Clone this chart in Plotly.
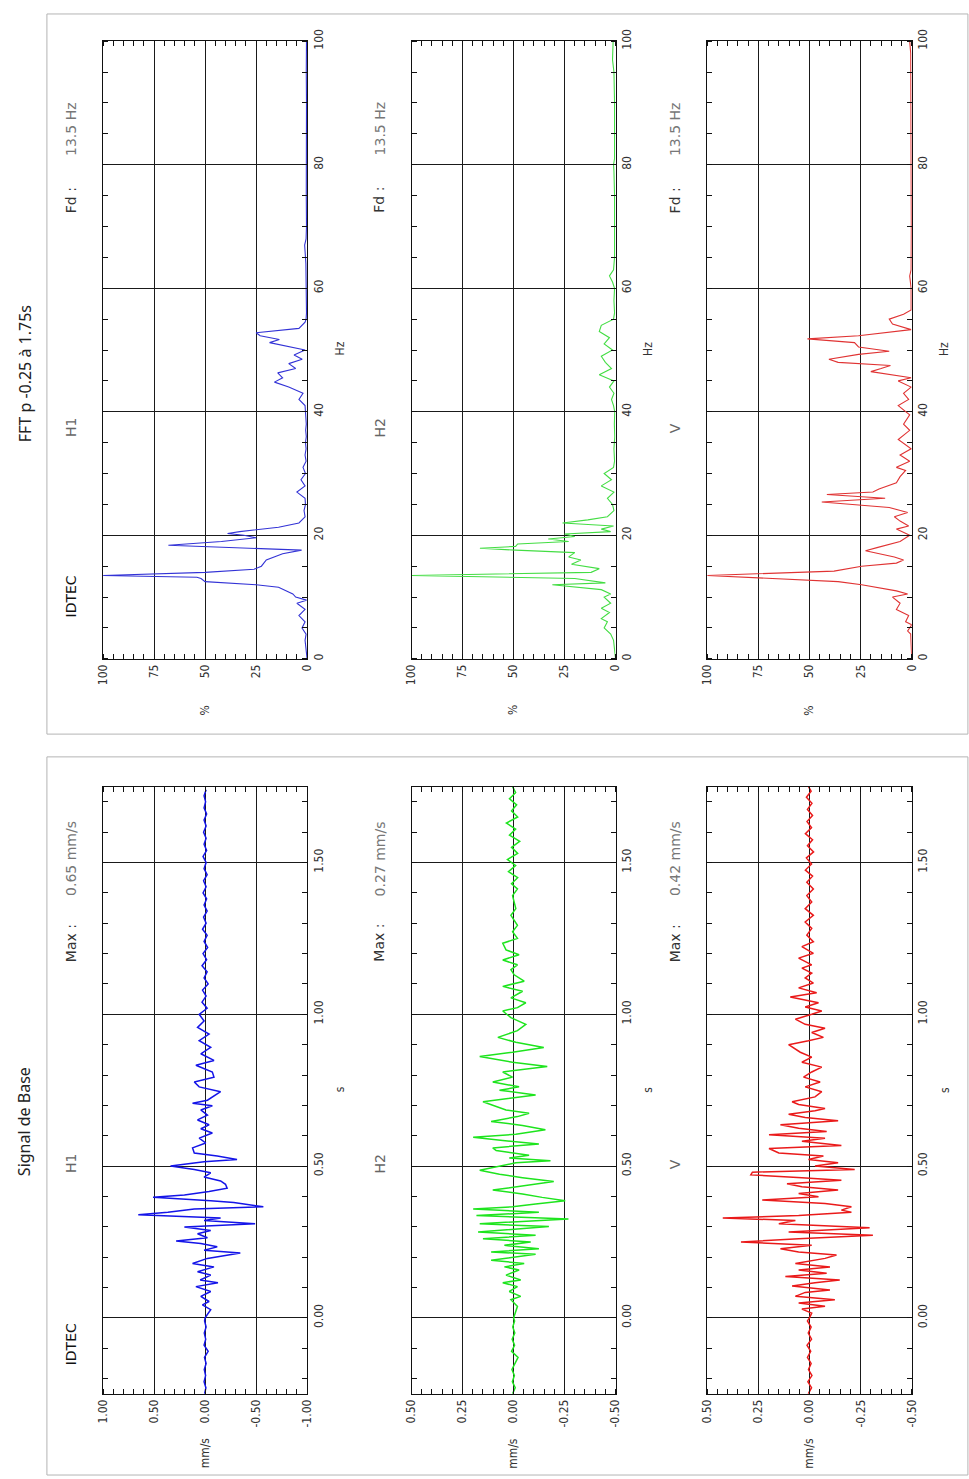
import plotly.graph_objects as go

# ---------------- DATA ----------------
# Signal de Base (time in s, velocity in mm/s)
h1_t = [-0.25,-0.23,-0.21,-0.19,-0.17,-0.15,-0.13,-0.11,-0.09,-0.07,-0.05,-0.03,-0.01,
        0.000,0.027,0.043,0.054,0.071,0.087,0.103,0.116,0.125,0.141,0.152,0.168,0.179,0.196,0.214,0.223,
        0.234,0.245,0.253,0.264,0.277,0.288,0.299,0.310,0.321,0.329,0.340,0.348,0.359,0.366,0.380,0.386,
        0.397,0.405,0.416,0.427,0.440,0.451,0.464,0.478,0.489,0.500,0.514,0.522,0.533,0.543,0.560,0.576,
        0.592,0.609,0.623,0.636,0.652,0.668,0.685,0.699,0.707,0.717,0.745,0.761,0.777,0.793,0.810,0.832,
        0.848,0.870,0.891,0.913,0.935,0.957,0.978,1.000,
        1.02,1.04,1.06,1.08,1.10,1.12,1.14,1.16,1.18,1.20,1.22,1.24,1.26,1.28,1.30,1.32,1.34,1.36,1.38,
        1.40,1.42,1.44,1.46,1.48,1.50,1.52,1.54,1.56,1.58,1.60,1.62,1.64,1.66,1.68,1.70,1.72,1.74]
h1_v = [0.005,-0.008,0.010,-0.005,0.008,-0.010,0.006,-0.030,0.010,-0.006,0.008,-0.010,0.005,
        0.000,-0.055,0.026,-0.039,0.042,-0.055,0.090,-0.126,0.048,-0.055,0.074,-0.087,0.123,-0.023,-0.345,0.010,
        -0.119,0.042,0.284,-0.023,0.074,-0.055,0.203,-0.490,0.010,-0.152,0.655,0.365,0.106,-0.571,-0.281,-0.055,
        0.510,0.203,-0.039,-0.216,-0.200,-0.152,0.010,-0.055,0.106,0.339,0.010,-0.313,-0.119,0.106,0.123,-0.006,
        0.058,-0.071,0.042,-0.039,0.074,-0.023,0.042,-0.071,0.123,-0.023,-0.152,0.058,0.106,-0.087,-0.071,0.090,
        -0.087,0.042,-0.055,0.058,-0.039,0.074,0.010,0.058,
        -0.020,0.030,-0.010,0.025,-0.030,0.010,-0.020,0.030,-0.015,0.020,-0.025,0.010,-0.020,0.025,-0.010,0.015,
        -0.020,0.010,-0.015,0.020,-0.010,0.015,-0.020,0.010,-0.010,0.020,-0.015,0.010,-0.010,0.015,-0.010,0.010,
        -0.015,0.010,-0.005,0.010,-0.010]

h2_t = [-0.25,-0.23,-0.21,-0.19,-0.17,-0.15,-0.13,-0.11,-0.09,-0.07,-0.05,-0.03,-0.01,
        0.000,0.038,0.060,0.071,0.087,0.103,0.116,0.125,0.141,0.158,0.168,0.179,0.190,0.201,0.210,0.217,
        0.228,0.239,0.250,0.261,0.272,0.283,0.293,0.301,0.310,0.318,0.326,0.337,0.348,0.359,0.366,0.375,
        0.386,0.397,0.408,0.421,0.429,0.449,0.462,0.473,0.486,0.497,0.511,0.518,0.527,0.536,0.551,0.560,
        0.573,0.584,0.595,0.605,0.620,0.634,0.647,0.663,0.674,0.685,0.701,0.712,0.734,0.750,0.761,0.777,
        0.793,0.810,0.828,0.842,0.861,0.875,0.891,0.908,0.924,0.946,0.967,0.989,1.011,1.022,1.038,1.054,
        1.076,1.092,1.109,1.130,1.147,1.163,1.179,1.196,1.212,1.234,1.250,1.272,1.293,1.326,1.348,1.391,1.413,
        1.43,1.45,1.47,1.49,1.51,1.53,1.55,1.57,1.59,1.61,1.63,1.65,1.67,1.69,1.71,1.73,1.75]
h2_v = [0.005,-0.008,0.006,-0.004,0.008,-0.006,-0.022,0.010,-0.005,0.007,-0.006,0.004,-0.005,
        0.000,-0.019,0.013,-0.035,0.021,-0.019,0.053,-0.035,0.037,-0.027,0.045,-0.052,0.110,-0.019,-0.108,0.110,
        -0.124,0.045,-0.084,0.150,-0.108,0.174,-0.019,-0.173,0.166,-0.076,-0.269,0.182,-0.124,0.198,0.005,-0.108,
        -0.253,-0.140,-0.044,0.102,0.021,-0.197,-0.044,0.069,0.166,0.085,-0.011,-0.181,0.021,-0.076,0.085,0.102,
        -0.124,0.053,0.198,-0.011,-0.156,-0.044,0.110,-0.019,-0.076,0.037,0.102,0.150,-0.108,0.069,-0.027,0.102,
        0.005,0.053,-0.165,0.005,0.166,0.005,-0.148,-0.011,0.077,-0.019,-0.060,0.013,0.053,-0.019,-0.060,0.013,
        -0.044,0.053,-0.052,-0.003,0.013,-0.019,0.053,-0.027,0.037,0.053,-0.019,0.005,-0.019,0.013,-0.011,0.005,-0.019,
        0.010,-0.020,0.025,-0.010,0.030,-0.020,0.010,-0.030,0.020,-0.010,0.035,-0.020,0.010,-0.015,0.020,-0.010,0.005]

v_t = [-0.25,-0.23,-0.21,-0.19,-0.17,-0.15,-0.13,-0.11,-0.09,-0.07,-0.05,-0.03,-0.01,
       0.000,0.016,0.029,0.038,0.049,0.060,0.071,0.084,0.092,0.105,0.116,0.125,0.136,0.147,0.158,0.168,
       0.179,0.196,0.207,0.217,0.228,0.239,0.250,0.261,0.272,0.283,0.297,0.310,0.321,0.329,0.337,0.348,
       0.355,0.366,0.377,0.388,0.399,0.410,0.421,0.432,0.442,0.453,0.462,0.471,0.480,0.489,0.500,0.511,
       0.522,0.533,0.543,0.558,0.568,0.582,0.592,0.603,0.614,0.625,0.636,0.649,0.660,0.671,0.682,0.690,
       0.703,0.712,0.728,0.745,0.761,0.777,0.793,0.810,0.826,0.842,0.859,0.875,0.900,0.913,0.924,0.940,
       0.954,0.967,0.984,1.000,1.011,1.024,1.038,1.057,1.071,1.087,1.103,1.120,1.136,1.152,1.163,1.185,
       1.201,1.223,1.239,1.261,1.283,1.304,1.326,1.348,1.370,1.391,1.413,1.435,
       1.455,1.475,1.495,1.515,1.535,1.555,1.575,1.595,1.615,1.635,1.655,1.675,1.695,1.715,1.735,1.75]
v_v = [0.006,-0.010,0.008,-0.012,0.005,-0.008,0.010,-0.006,0.012,-0.010,0.006,-0.008,0.010,
       0.000,-0.011,0.037,-0.076,0.053,-0.124,0.069,0.021,-0.100,0.085,-0.027,-0.148,0.118,-0.084,0.053,-0.100,
       0.069,-0.076,-0.132,0.053,0.142,-0.011,0.335,0.053,-0.310,0.102,-0.294,0.150,0.069,0.424,0.053,-0.205,
       -0.156,-0.205,-0.076,0.231,-0.044,0.053,-0.140,0.037,0.110,-0.156,0.037,0.287,0.279,-0.221,-0.027,-0.140,
       0.005,-0.068,0.150,0.198,-0.156,0.037,-0.076,0.198,-0.084,0.053,0.142,-0.140,0.021,0.102,-0.027,-0.076,
       0.053,0.085,-0.027,-0.060,0.021,-0.052,0.029,-0.011,-0.060,0.037,-0.011,0.045,0.102,0.005,-0.068,-0.011,
       -0.076,0.021,0.069,-0.011,-0.060,0.021,-0.044,0.094,-0.035,0.053,-0.019,0.021,-0.011,0.037,-0.011,0.053,
       -0.019,0.037,-0.019,0.013,-0.011,0.021,-0.019,0.021,-0.011,0.013,-0.019,0.013,
       -0.015,0.020,-0.010,0.015,-0.020,0.010,-0.015,0.020,-0.010,0.012,-0.015,0.010,-0.012,0.015,-0.008,0.005]

# FFT p -0.25 a 1.75s (frequency in Hz, amplitude in %)
fft_h1_f = [0,1,2,3,4,5,6,7,8,9,9.5,10,10.5,11,11.6,12,12.5,13,13.2,13.5,14,14.5,15,16,17,17.6,18.4,19,19.6,20,
            20.3,20.6,21.3,22,23,24,25,26,27,28,29,30,31,32,33,34,35,36,37,38,39,40,41,42,43,44,44.8,45.5,46.3,
            47,47.8,48.5,49.2,50,50.7,51.2,51.7,52.3,52.8,53.5,54.5,55,56,58,60,62,64,66,67,68,70,75,80,85,90,95,100]
fft_h1_p = [0,0.3,0.5,1,0.5,2.5,1,4,1,5,0.3,5.6,7,10,14,25,50,52,54,100,50,26,22.4,20,12,2.7,68,42,25,31,
            39,33,14,4,1,1.5,0.8,1,5,1,3,0.8,2,0.5,1,0.5,0.8,0.4,0.7,0.4,0.6,0.5,1,4,2,9,16,12,14.4,
            5.6,9,2.4,6.4,1,12,18.4,13.6,23,25,4,1,0.5,0.3,0.4,0.5,0.3,0.6,1,1.2,0.5,0.3,0.4,0.3,0.4,0.3,0.4,0.3]

fft_h2_f = [0,1,2,3,4,5,6,6.5,7.5,8.2,9,10,10.5,11.2,12,12.3,13,13.5,14,14.6,15.3,16,16.5,17.2,17.6,17.9,18.2,
            18.6,19,19.4,19.8,20.2,20.6,21,21.5,22,22.5,23,24,25,26,27,28,29,30,31,32,34,36,38,40,41,42,43,44,
            45,46,47,48,49,50,51,52,53,54,55,56,58,60,61,62,63,65,70,75,79,80,81,85,90,95,97,100]
fft_h2_p = [0,0.3,0.5,1,2.4,5.6,4,7,3,7,2.4,5.6,2.4,7,31,5,20,100,12,8,21.6,17,23,20,49,66.5,49,
            48,23,33,20,25,2.4,7,1,26,13.6,4,0.8,1.5,4,0.8,7,2,5.6,1,0.5,0.8,0.4,0.6,0.4,1,2,0.8,3,
            0.8,8,2,5,7,1.5,5.6,3,8,7,1,0.5,0.8,0.5,1.5,3,1,0.5,0.4,0.5,0.8,1,0.5,0.4,0.5,0.8,1.5,1.2]

fft_v_f = [0,2,4,4.5,5.5,6,7,8,9,10,10.5,11,12,12.5,13.5,14.2,15,15.5,16,16.5,17.5,18,19,20,21,21.5,22.3,23,
           23.7,24.5,25.4,26,26.6,27,27.5,28.5,29.5,30.5,31,32,33,34,35.5,37,38,39.5,41,42,43,44,45,45.5,46.5,
           47,47.5,48,48.5,49.3,49.8,50.5,51.2,51.8,52.3,53.3,54.2,55,55.8,56.5,58,60,62,63,70,80,90,98,100]
fft_v_p = [0,0.3,0.5,2,0,3,1.5,7.5,5.7,9.4,2,7.5,24.5,36,100,38,24.5,7.5,4,8.5,22.6,17,5.7,1,7.5,1.5,5.7,8.5,
           2,11,44,13,41.5,19,16,7.5,5.7,3,7.5,1,5.7,0.3,6.6,1,4,1,6.6,1.5,4,0.3,6.6,0.3,20,
           15,10.4,36,40.5,26,11,26,28,51,26,0.3,9.4,11,4,0.3,0.3,0.3,1,0.3,0.2,0.2,0.2,0.5,1]

# tick labels
sig_ticks_h1 = [1.0, 0.5, 0.0, -0.5, -1.0]
sig_text_h1 = ["1.00", "0.50", "0.00", "-0.50", "-1.00"]
sig_ticks_small = [0.5, 0.25, 0.0, -0.25, -0.5]
sig_text_small = ["0.50", "0.25", "0.00", "-0.25", "-0.50"]
time_ticks = [0.0, 0.5, 1.0, 1.5]
time_text = ["0.00", "0.50", "1.00", "1.50"]
pct_ticks = [100, 75, 50, 25, 0]
pct_text = ["100", "75", "50", "25", "0"]
hz_ticks = [0, 20, 40, 60, 80, 100]
hz_text = ["0", "20", "40", "60", "80", "100"]

channels = ["H1", "H2", "V"]
max_values = ["0.65 mm/s", "0.27 mm/s", "0.42 mm/s"]
fd_values = ["13.5 Hz", "13.5 Hz", "13.5 Hz"]
sig_colors = ["#1414e8", "#1ee41e", "#ea1a1a"]
fft_colors = ["#3333d6", "#44dd44", "#e03333"]

# ---------------- LAYOUT ----------------
W, H = 969, 1479
def px(x):
    return x / W
def py(y):
    return 1 - y / H

panel_x = [(97.5, 304.5), (410.5, 617.5), (710.5, 918)]
sig_y = (782, 1395)
fft_y = (29.5, 653)

tick_font = dict(family="Liberation Sans Narrow, DejaVu Sans Condensed, Liberation Sans", size=12, color="#333")
ann_font_family = "DejaVu Sans, Verdana, sans-serif"

fig = go.Figure()
layout = dict(
    autosize=True, margin=dict(l=0, r=0, t=0, b=0, pad=0),
    paper_bgcolor="white", plot_bgcolor="white", showlegend=False,
)

def amp_axis(domain, rng, tv, tt, minor_dt, anchor):
    return dict(domain=domain, range=rng, tickvals=tv, ticktext=tt, tickangle=-90,
                showgrid=True, gridcolor="#1a1a1a", gridwidth=1, zeroline=False,
                showline=True, linecolor="#111", linewidth=1, mirror="allticks",
                ticks="", tickfont=tick_font, anchor=anchor, fixedrange=True,
                minor=dict(dtick=minor_dt, ticks="inside", ticklen=5, tickcolor="#111", showgrid=False))

def t_axis(domain, rng, tv, tt, minor_dt, anchor):
    return dict(domain=domain, range=rng, tickvals=tv, ticktext=tt, tickangle=-90, side="right",
                showgrid=True, gridcolor="#1a1a1a", gridwidth=1, zeroline=False,
                showline=True, linecolor="#111", linewidth=1, mirror="allticks",
                ticks="", tickfont=tick_font, anchor=anchor, fixedrange=True,
                minor=dict(dtick=minor_dt, tick0=0, ticks="inside", ticklen=5, tickcolor="#111", showgrid=False))

sig_data = [(h1_v, h1_t), (h2_v, h2_t), (v_v, v_t)]
fft_data = [(fft_h1_p, fft_h1_f), (fft_h2_p, fft_h2_f), (fft_v_p, fft_v_f)]

annotations = []
def ann(text, x, y, size=14, color="#222", family=ann_font_family):
    annotations.append(dict(text=text, x=px(x), y=py(y), xref="paper", yref="paper",
                            showarrow=False, textangle=-90, xanchor="center", yanchor="middle",
                            font=dict(family=family, size=size, color=color)))

label_x = [65, 378, 678]

for i in range(3):
    x0, x1 = panel_x[i]
    n = i + 1
    xs = "x" if n == 1 else f"x{n}"
    ys = "y" if n == 1 else f"y{n}"
    if i == 0:
        layout["xaxis"] = amp_axis([px(x0), px(x1)], [1.0, -1.0], sig_ticks_h1, sig_text_h1, 0.1, "y")
    else:
        layout[f"xaxis{n}"] = amp_axis([px(x0), px(x1)], [0.5, -0.5], sig_ticks_small, sig_text_small, 0.05, ys)
    layout["yaxis" if n == 1 else f"yaxis{n}"] = t_axis([py(sig_y[1]), py(sig_y[0])], [-0.25, 1.75],
                                                        time_ticks, time_text, 0.1, xs)
    vals, times = sig_data[i]
    fig.add_trace(go.Scatter(x=vals, y=times, mode="lines", xaxis=xs, yaxis=ys,
                             line=dict(color=sig_colors[i], width=1.5), hoverinfo="skip"))
    m = i + 4
    xf, yf = f"x{m}", f"y{m}"
    layout[f"xaxis{m}"] = amp_axis([px(x0), px(x1)], [100, 0], pct_ticks, pct_text, 5, yf)
    layout[f"yaxis{m}"] = t_axis([py(fft_y[1]), py(fft_y[0])], [0, 100], hz_ticks, hz_text, 5, xf)
    pv, fv = fft_data[i]
    fig.add_trace(go.Scatter(x=pv, y=fv, mode="lines", xaxis=xf, yaxis=yf,
                             line=dict(color=fft_colors[i], width=1.1), hoverinfo="skip"))

    cx = (x0 + x1) / 2
    lx = label_x[i]
    ann("mm/s", cx, 1455, size=12, color="#333", family=tick_font["family"])
    ann("s", x1 + 33, 1088, size=12, color="#333", family=tick_font["family"])
    ann("%", cx, 705, size=12, color="#333", family=tick_font["family"])
    ann("Hz", x1 + 33, 340, size=12, color="#333", family=tick_font["family"])
    ann(channels[i], lx, 1163, color="#666")
    ann("Max :", lx, 940, color="#333")
    ann(max_values[i], lx, 855, color="#777")
    ann(channels[i], lx, 420, color="#666")
    ann("Fd :", lx, 190, color="#333")
    ann(fd_values[i], lx, 118, color="#777")

ann("IDTEC", 65, 1345, color="#111")
ann("IDTEC", 65, 590, color="#111")
ann("Signal de Base", 18, 1120, size=16, color="#222", family="Noto Sans, Open Sans, sans-serif")
ann("FFT p -0.25 à 1.75s", 18, 365, size=16, color="#222", family="Noto Sans, Open Sans, sans-serif")

layout["annotations"] = annotations
layout["shapes"] = [
    dict(type="rect", xref="paper", yref="paper", x0=px(40.5), x1=px(975), y0=py(729), y1=py(2),
         line=dict(color="#b4b4b4", width=1)),
    dict(type="rect", xref="paper", yref="paper", x0=px(40.5), x1=px(975), y0=py(1477), y1=py(752),
         line=dict(color="#b4b4b4", width=1)),
]

fig.update_layout(**layout)
fig.write_html(
    "out.html",
    default_width="100vw",
    default_height="100vh",
    config={"displayModeBar": False, "responsive": True},
    post_script=(
        "document.documentElement.style.margin='0';document.documentElement.style.padding='0';"
        "document.documentElement.style.overflow='hidden';"
        "document.body.style.margin='0';document.body.style.padding='0';document.body.style.overflow='hidden';"
        "var gd=document.getElementById('{plot_id}');gd.style.width='100vw';gd.style.height='100vh';"
        "Plotly.Plots.resize(gd);"
    ),
)
